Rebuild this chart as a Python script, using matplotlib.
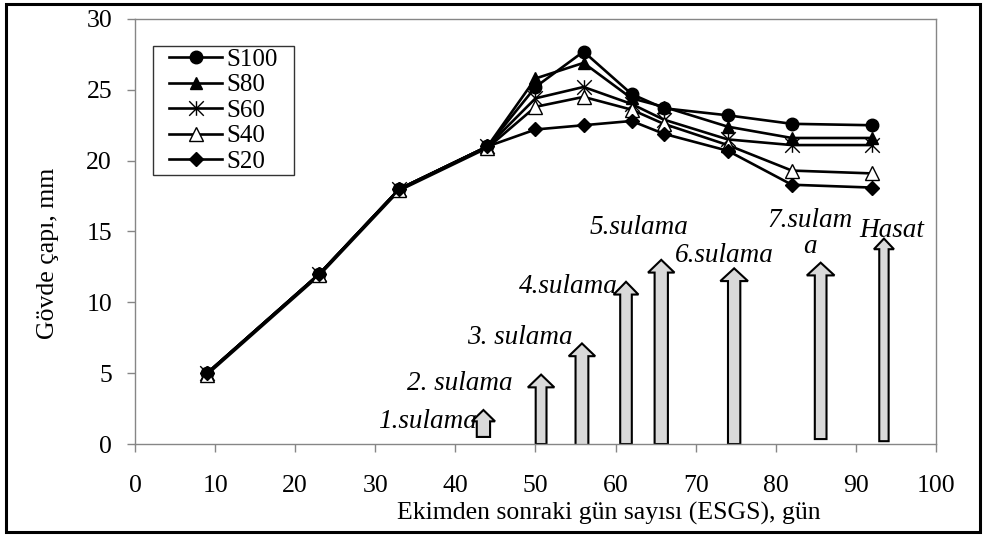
import matplotlib
matplotlib.use("Agg")
import matplotlib.pyplot as plt
from matplotlib.patches import FancyArrow, Rectangle
from matplotlib.path import Path
from matplotlib.ticker import MultipleLocator

plt.rcParams['font.family'] = ['Liberation Serif', 'DejaVu Serif']

# Stem diameter (mm) by days after sowing, per irrigation treatment
days = [9, 23, 33, 44, 50, 56, 62, 66, 74, 82, 92]
s100 = [5.0, 12.0, 18.0, 21.0, 25.2, 27.7, 24.7, 23.7, 23.2, 22.6, 22.5]
s80 = [5.0, 12.0, 18.0, 21.0, 25.8, 26.9, 24.4, 23.8, 22.4, 21.6, 21.6]
s60 = [5.0, 12.0, 18.0, 21.0, 24.4, 25.2, 24.0, 22.9, 21.5, 21.1, 21.1]
s40 = [4.9, 11.9, 17.9, 20.9, 23.8, 24.5, 23.6, 22.6, 21.1, 19.3, 19.1]
s20 = [5.0, 12.0, 18.0, 21.0, 22.2, 22.5, 22.8, 21.9, 20.7, 18.3, 18.1]
series_names = ["S100", "S80", "S60", "S40", "S20"]

# Irrigation events and harvest
event_labels = ["1.sulama", "2. sulama", "3. sulama", "4.sulama",
                "5.sulama", "6.sulama", "7.sulam\na", "Hasat"]
event_days = [43.5, 50.7, 55.8, 61.3, 65.7, 74.8, 85.6, 93.5]
arrow_base = [0.5, 0.0, -0.2, 0.0, 0.0, 0.0, 0.35, 0.2]
arrow_top = [2.4, 4.9, 7.1, 11.45, 13.0, 12.4, 12.8, 14.5]

# arrow shapes and label placement
shaft_w = [1.66, 1.35, 1.6, 1.45, 1.66, 1.54, 1.46, 1.17]
head_w = [2.9, 3.3, 3.3, 3.1, 3.3, 3.45, 3.45, 2.5]
head_len = [0.8, 0.9, 0.9, 0.9, 0.9, 0.9, 0.9, 0.75]
label_xy = [(30.3, 1.62), (33.9, 4.3), (41.4, 7.55), (47.9, 11.1),
            (56.7, 15.3), (67.4, 13.3), (84.3, 14.86), (90.4, 15.1)]
label_ha = ["left"] * 6 + ["center", "left"]

star = Path([(-1, -1), (1, 1), (-1, 1), (1, -1), (0, -1), (0, 1)],
            [Path.MOVETO, Path.LINETO] * 3)

fig = plt.figure(figsize=(9.83, 5.36), dpi=100)
ax = fig.add_axes([0.1373, 0.1716, 0.8149, 0.7930])

styles = [
    dict(marker='o', ms=9.0, mfc='black', mec='black'),
    dict(marker='^', ms=9.2, mfc='black', mec='black'),
    dict(marker=star, ms=10.5, mfc='none', mec='black', mew=1.0),
    dict(marker='^', ms=9.8, mfc='white', mec='black', mew=1.0),
    dict(marker='D', ms=7.4, mfc='black', mec='black'),
]
for vals, name, st in zip([s100, s80, s60, s40, s20], series_names, styles):
    ax.plot(days, vals, color='black', lw=1.9, label=name, **st)

for i in range(len(event_days)):
    arr = FancyArrow(event_days[i], arrow_base[i], 0,
                     arrow_top[i] - arrow_base[i],
                     width=shaft_w[i], head_width=head_w[i],
                     head_length=head_len[i], length_includes_head=True,
                     facecolor='#d9d9d9', edgecolor='black', lw=1.5,
                     zorder=1)
    ax.add_patch(arr)
    ax.text(label_xy[i][0], label_xy[i][1], event_labels[i],
            ha=label_ha[i], va='center', style='italic', fontsize=19.5,
            multialignment='center', linespacing=1.05, zorder=3)

ax.set_xlim(0, 100)
ax.set_ylim(0, 30)
ax.xaxis.set_major_locator(MultipleLocator(10))
ax.yaxis.set_major_locator(MultipleLocator(5))
for sp in ax.spines.values():
    sp.set_color('#868686')
    sp.set_linewidth(1.0)
ax.tick_params(axis='both', colors='#868686', labelcolor='black',
               labelsize=18.5, length=5.5, width=1.0, direction='out')
ax.tick_params(axis='x', pad=17)
ax.tick_params(axis='y', pad=11)

ax.set_xlabel("Ekimden sonraki gün sayısı (ESGS), gün", fontsize=18.5,
              va='center')
ax.xaxis.set_label_coords(0.592, -0.163)
ax.set_ylabel("Gövde çapı, mm", fontsize=18.5, va='center')
ax.yaxis.set_label_coords(-0.1086, 0.449)

leg = ax.legend(loc='upper left', bbox_to_anchor=(0.041, 0.934),
                borderaxespad=0, frameon=False, fontsize=18,
                handlelength=2.12, handletextpad=0.17, labelspacing=0.12,
                borderpad=0.05)

# legend frame with wide side padding
fig.canvas.draw()
bb = leg.get_window_extent().transformed(fig.transFigure.inverted())
pw = 15 / 983
ph = 1 / 536
fig.patches.append(Rectangle((bb.x0 - pw, bb.y0 - ph), bb.width + 2 * pw,
                             bb.height + 2 * ph, transform=fig.transFigure,
                             fill=False, edgecolor='#333333', lw=1.0))

# outer frame
fig.patches.append(Rectangle((0.0061, 0.0075), 0.9909, 0.985,
                             transform=fig.transFigure, fill=False,
                             edgecolor='black', lw=2.2))

fig.savefig("out.png", dpi=100)
